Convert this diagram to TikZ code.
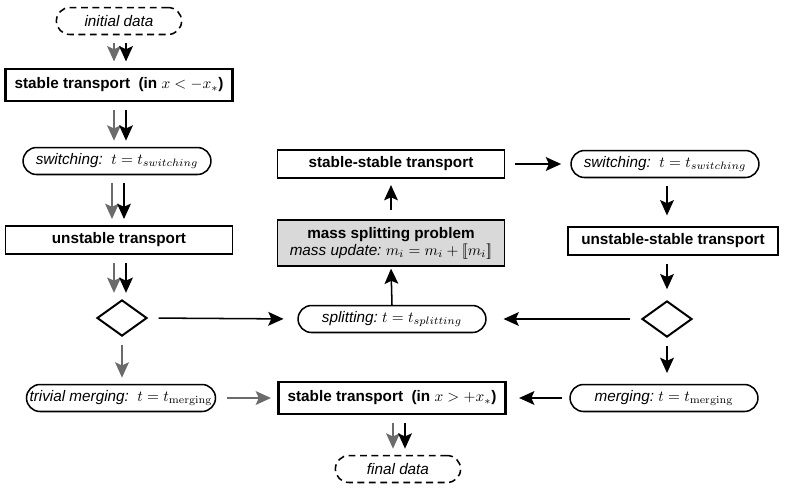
\documentclass[tikz,border=0pt]{standalone}
\usepackage{amsmath}
\usepackage[no-math]{fontspec}
\setmainfont{Liberation Sans}
\usepackage{tikz}
\usetikzlibrary{shapes.geometric, arrows.meta, positioning, calc}

\definecolor{arrgray}{gray}{0.42}
\definecolor{boxgray}{gray}{0.85}

\tikzset{
  plainbox/.style={draw, line width=1.3pt, minimum width=5.22cm, minimum height=0.64cm, inner sep=2pt, font=\bfseries},
  stablebox/.style={plainbox, line width=1.8pt, minimum height=0.74cm},
  pill/.style={draw, line width=1pt, rounded corners=0.31cm, minimum width=4.32cm, minimum height=0.62cm, inner sep=2pt, font=\itshape},
  datapill/.style={pill, dash pattern=on 4.5pt off 3pt, minimum width=2.88cm},
  choice/.style={draw, diamond, line width=1.3pt, minimum width=1.15cm, minimum height=0.83cm, inner sep=0pt},
  flow/.style={-{Stealth[length=10pt, width=9pt, inset=2pt]}, line width=1pt, shorten <=5pt, shorten >=4pt},
  gflow/.style={flow, arrgray},
}

\begin{document}
\begin{tikzpicture}[x=0.023cm, y=-0.023cm]
\useasboundingbox (0,0) rectangle (810,492);

% left column
\node[datapill] (init) at (119,21) {initial data};
\node[stablebox] (stableL) at (119,85) {stable transport\ \ (in $x < -x_*$)};
\node[pill] (switchL) at (117,161) {switching:\ \ \upshape$t = t_{switching}$};
\node[plainbox] (unstable) at (119,240) {unstable transport};
\node[choice] (decideL) at (122,318) {};
\node[pill] (trivial) at (121,398) {trivial merging:\ \ \upshape$t = t_{\mathrm{merging}}$};

% middle column
\node[plainbox] (stabstab) at (391,164) {stable-stable transport};
\node[plainbox, fill=boxgray, minimum height=1.06cm, align=center] (mass) at (391,243)
  {mass splitting problem\\[-1pt] \mdseries\itshape mass update:\ \upshape$m_i = m_i + [\![m_i]\!]$};
\node[pill] (split) at (392,319) {splitting:\ \upshape$t = t_{splitting}$};
\node[stablebox] (stableR) at (392,398) {stable transport\ \ (in $x > +x_*$)};
\node[datapill] (final) at (398,469) {final data};

% right column
\node[pill] (switchR) at (665,164) {switching:\ \ \upshape$t = t_{switching}$};
\node[plainbox, minimum width=4.81cm] (unstabstab) at (673,241) {unstable-stable transport};
\node[choice] (decideR) at (667,319) {};
\node[pill] (merge) at (664,398) {merging:\ \upshape$t = t_{\mathrm{merging}}$};

% double arrows down the left side
\foreach \a/\b in {init/stableL, stableL/switchL, switchL/unstable, unstable/decideL} {
  \draw[gflow] ([xshift=-5*0.023cm]\a.south) -- ([xshift=-5*0.023cm]\a.south |- \b.north);
  \draw[flow] ([xshift=7*0.023cm]\a.south) -- ([xshift=7*0.023cm]\a.south |- \b.north);
}
\draw[gflow] (decideL.south) -- (decideL.south |- trivial.north);
\draw[gflow, shorten <=7pt] (trivial.east) -- (stableR.west);
\draw[gflow] ([xshift=1*0.023cm]stableR.south) -- ([xshift=1*0.023cm]stableR.south |- final.north);
\draw[flow] ([xshift=13*0.023cm]stableR.south) -- ([xshift=13*0.023cm]stableR.south |- final.north);

% the splitting branch
\draw[flow, shorten <=7pt, shorten >=9pt] (decideL.east) -- (split.west);
\draw[flow, shorten <=7pt, shorten >=11pt] (decideR.west) -- (split.east);
\draw[flow, shorten <=0pt, shorten >=1pt] (split.north) -- (mass.south);
\draw[flow, shorten <=6pt, shorten >=4pt] (mass.north) -- (stabstab.south);
\draw[flow, shorten <=6pt, shorten >=6pt] (stabstab.east) -- (switchR.west);
\draw[flow, shorten >=7pt] (decideR.north |- switchR.south) -- (decideR.north |- unstabstab.north);
\draw[flow, shorten >=7pt] (unstabstab.south -| decideR.north) -- (decideR.north);
\draw[flow, shorten >=7pt] (decideR.south) -- (decideR.south |- merge.north);
\draw[flow, shorten >=8pt] (merge.west) -- (stableR.east);
\end{tikzpicture}
\end{document}
